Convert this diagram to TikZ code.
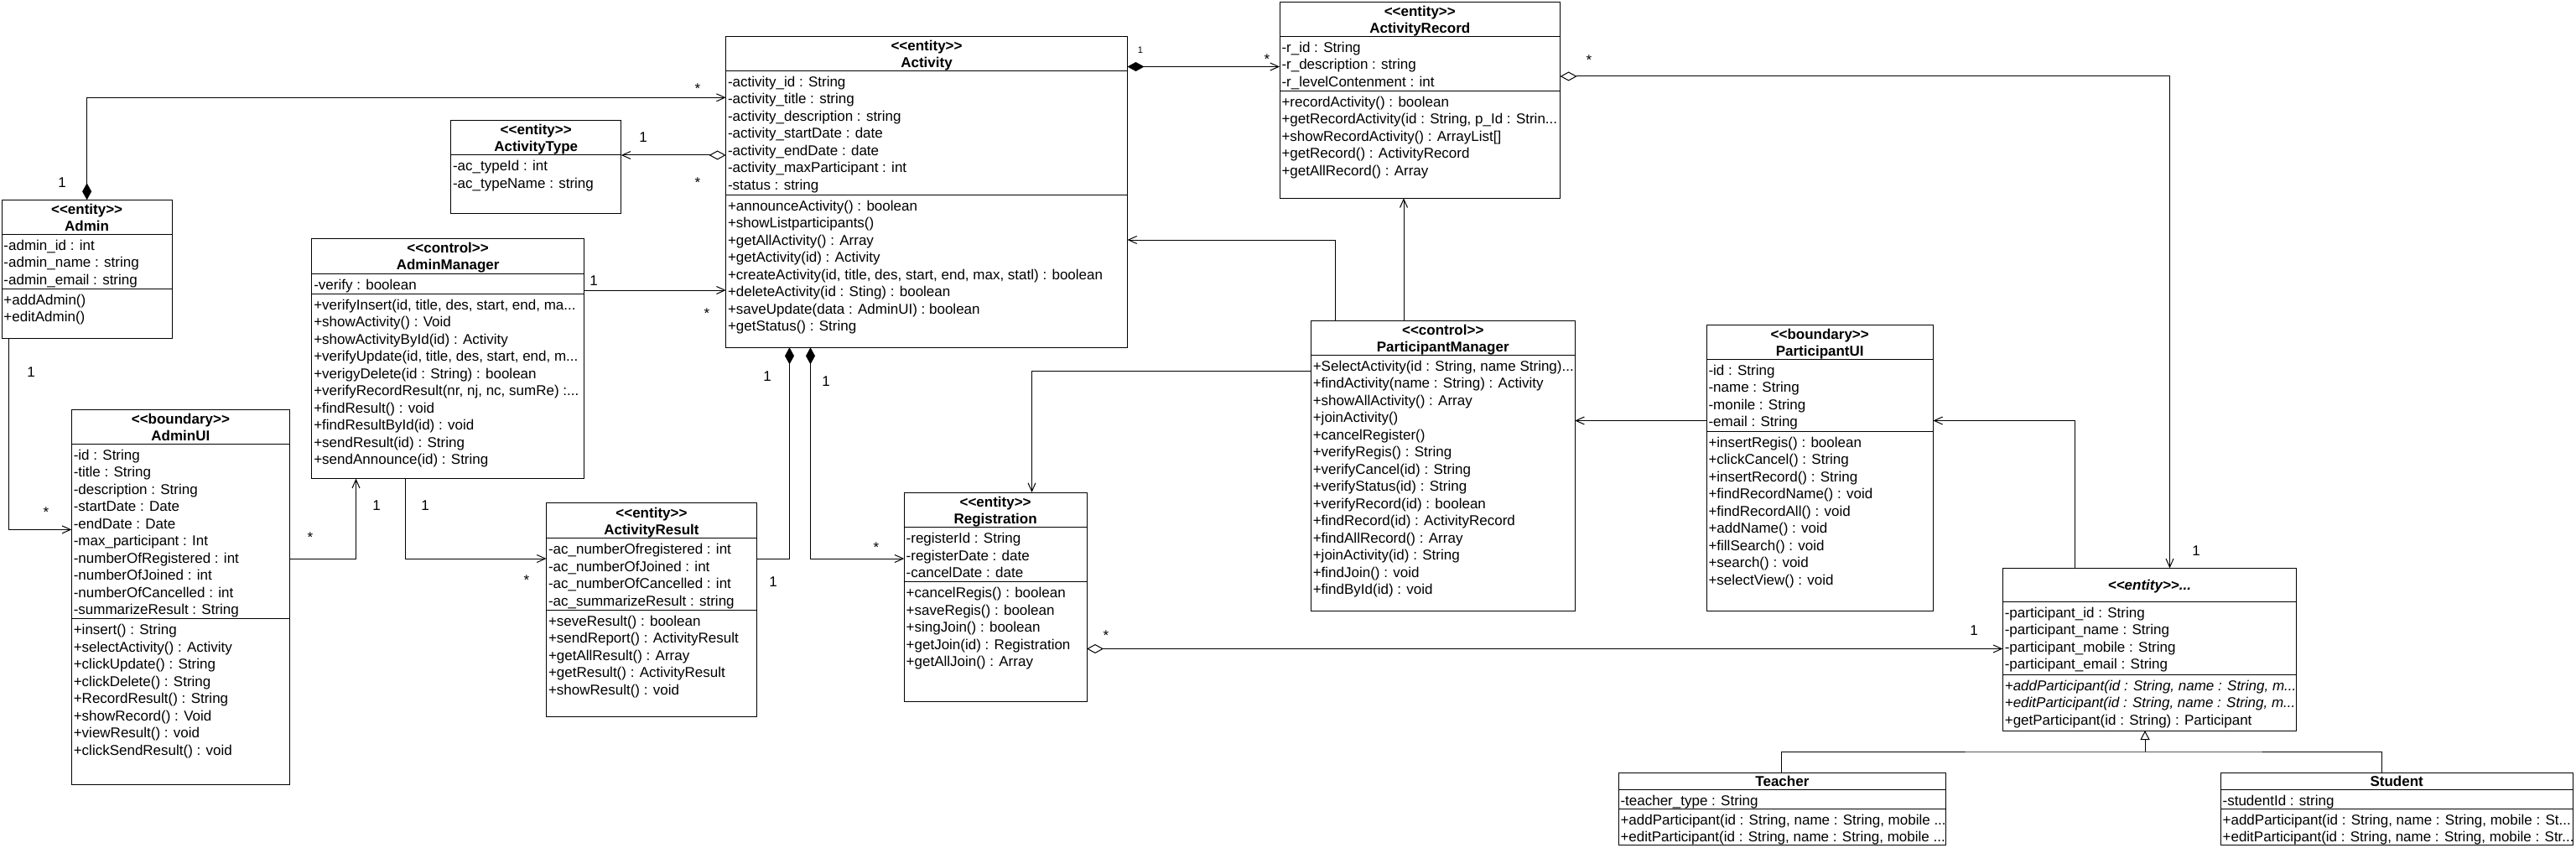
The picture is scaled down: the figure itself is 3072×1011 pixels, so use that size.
\documentclass[tikz,border=0pt]{standalone}
\usepackage{fontspec}
\setmainfont{Liberation Sans}
\usetikzlibrary{arrows.meta,calc}

\tikzset{
  box/.style={draw=black, line width=1pt, inner sep=0pt, outer sep=0pt, fill=white},
  divl/.style={draw=black, line width=1pt},
  txt/.style={inner sep=0pt, outer sep=0pt, font=\fontsize{17}{20.5}\selectfont},
  hdr/.style={inner sep=0pt, outer sep=0pt, font=\fontsize{17}{20.5}\selectfont\bfseries},
  lbl/.style={inner sep=0pt, outer sep=0pt, anchor=base, font=\fontsize{17}{20.5}\selectfont},
  conn/.style={draw=black, line width=1pt},
  nav/.style={conn, -{Straight Barb[length=10pt,width=9pt]}},
  comp/.style={conn, {Diamond[length=20pt,width=11pt]}-{Straight Barb[length=10pt,width=9pt]}},
  compplain/.style={conn, {Diamond[length=20pt,width=11pt]}-},
  aggr/.style={conn, {Diamond[open,length=20pt,width=11pt]}-{Straight Barb[length=10pt,width=9pt]}},
  gen/.style={conn, -{Triangle[open,length=11pt,width=11pt]}}
}

\newcommand\tdots{...}
% class box: name, x1, y1, x2, y2
\newcommand\cls[5]{\node[box, anchor=north west, minimum width={#4-#2}, minimum height={#5-#3}] (#1) at (#2,#3) {};}
% compartment divider: name, y
\newcommand\cdiv[2]{\draw[divl] (#1.west |- 0,#2) -- (#1.east |- 0,#2);}
% two-line header: name, stereotype, title
\newcommand\stereo[3]{%
  \node[hdr, anchor=base] (#1-st) at ($(#1.north)+(0,17.5)$) {<\kern0pt<#2>\kern0pt>};
  \node[hdr, anchor=base] (#1-nm) at ($(#1.north)+(0,37.5)$) {#3};}
% rows: prefix, x, divider y, list
\newcommand\rows[4]{\foreach \rowtext [count=\i] in {#4} {\node[txt, anchor=base west] (#1\i) at (#2, {#3+19+(\i-1)*20.5}) {\rowtext};}}

\begin{document}
\begin{tikzpicture}[x=1pt,y=-1pt]
\fill[white] (0,0) rectangle (3072,1011);
\useasboundingbox (0,0) rectangle (3072,1011);

% ---------- Admin
\cls{admin}{2}{238.3}{205.3}{403.3}
\cdiv{admin}{279.3}\cdiv{admin}{344}
\stereo{admin}{entity}{Admin}
\rows{adminA}{4.5}{279.3}{{-admin\_id : int},{-admin\_name : string},{-admin\_email : string}}
\rows{adminM}{4.5}{344}{{+addAdmin()},{+editAdmin()}}

% ---------- Activity
\cls{activity}{865.6}{43.3}{1344.5}{414.3}
\cdiv{activity}{84.3}\cdiv{activity}{232.3}
\stereo{activity}{entity}{Activity}
\rows{actA}{868}{84.3}{{-activity\_id : String},{-activity\_title : string},{-activity\_description : string},{-activity\_startDate : date},{-activity\_endDate : date},{-activity\_maxParticipant : int},{-status : string}}
\rows{actM}{868}{232.3}{{+announceActivity() : boolean},{+showListparticipants()},{+getAllActivity() : Array},{+getActivity(id) : Activity},{+createActivity(id, title, des, start, end, max, statl) : boolean},{+deleteActivity(id : Sting) : boolean},{+saveUpdate(data : AdminUI) : boolean},{+getStatus() : String}}

% ---------- ActivityType
\cls{acttype}{537.7}{143.3}{740.8}{254.3}
\cdiv{acttype}{185}
\stereo{acttype}{entity}{ActivityType}
\rows{atA}{540}{185}{{-ac\_typeId : int},{-ac\_typeName : string}}

% ---------- AdminManager
\cls{adminmgr}{371.8}{284.3}{696.5}{570.7}
\cdiv{adminmgr}{326.3}\cdiv{adminmgr}{350.4}
\stereo{adminmgr}{control}{AdminManager}
\rows{amA}{374.3}{326.3}{{-verify : boolean}}
\rows{amM}{374.3}{350.4}{{+verifyInsert(id, title, des, start, end, ma\tdots},{+showActivity() : Void},{+showActivityById(id) : Activity},{+verifyUpdate(id, title, des, start, end, m\tdots},{+verigyDelete(id : String) : boolean},{+verifyRecordResult(nr, nj, nc, sumRe) :\tdots},{+findResult() : void},{+findResultById(id) : void},{+sendResult(id) : String},{+sendAnnounce(id) : String}}

% ---------- AdminUI
\cls{adminui}{85.3}{488.2}{345.5}{935.7}
\cdiv{adminui}{529.3}\cdiv{adminui}{737.9}
\stereo{adminui}{boundary}{AdminUI}
\rows{auA}{87.8}{529.3}{{-id : String},{-title : String},{-description : String},{-startDate : Date},{-endDate : Date},{-max\_participant : Int},{-numberOfRegistered : int},{-numberOfJoined : int},{-numberOfCancelled : int},{-summarizeResult : String}}
\rows{auM}{87.8}{737.9}{{+insert() : String},{+selectActivity() : Activity},{+clickUpdate() : String},{+clickDelete() : String},{+RecordResult() : String},{+showRecord() : Void},{+viewResult() : void},{+clickSendResult() : void}}

% ---------- ActivityResult
\cls{actresult}{651.5}{599.6}{902.4}{854}
\cdiv{actresult}{641.9}\cdiv{actresult}{727}
\stereo{actresult}{entity}{ActivityResult}
\rows{arA}{654}{641.9}{{-ac\_numberOfregistered : int},{-ac\_numberOfJoined : int},{-ac\_numberOfCancelled : int},{-ac\_summarizeResult : string}}
\rows{arM}{654}{727}{{+seveResult() : boolean},{+sendReport() : ActivityResult},{+getAllResult() : Array},{+getResult() : ActivityResult},{+showResult() : void}}

% ---------- Registration
\cls{registration}{1078.2}{587}{1296}{836}
\cdiv{registration}{628.6}\cdiv{registration}{693.5}
\stereo{registration}{entity}{Registration}
\rows{rgA}{1080.7}{628.6}{{-registerId : String},{-registerDate : date},{-cancelDate : date}}
\rows{rgM}{1080.7}{693.5}{{+cancelRegis() : boolean},{+saveRegis() : boolean},{+singJoin() : boolean},{+getJoin(id) : Registration},{+getAllJoin() : Array}}

% ---------- ActivityRecord
\cls{actrecord}{1526}{2.3}{1860.6}{236.3}
\cdiv{actrecord}{43.3}\cdiv{actrecord}{108.3}
\stereo{actrecord}{entity}{ActivityRecord}
\rows{rcA}{1528.5}{43.3}{{-r\_id : String},{-r\_description : string},{-r\_levelContenment : int}}
\rows{rcM}{1528.5}{108.3}{{+recordActivity() : boolean},{+getRecordActivity(id : String, p\_Id : Strin\tdots},{+showRecordActivity() : ArrayList[]},{+getRecord() : ActivityRecord},{+getAllRecord() : Array}}

% ---------- ParticipantManager
\cls{pmanager}{1563.3}{382.3}{1878.2}{728.3}
\cdiv{pmanager}{423.3}
\stereo{pmanager}{control}{ParticipantManager}
\rows{pmM}{1565.8}{423.3}{{+SelectActivity(id : String, name String)\tdots},{+findActivity(name : String) : Activity},{+showAllActivity() : Array},{+joinActivity()},{+cancelRegister()},{+verifyRegis() : String},{+verifyCancel(id) : String},{+verifyStatus(id) : String},{+verifyRecord(id) : boolean},{+findRecord(id) : ActivityRecord},{+findAllRecord() : Array},{+joinActivity(id) : String},{+findJoin() : void},{+findById(id) : void}}

% ---------- ParticipantUI
\cls{partui}{2035}{387.3}{2305.4}{728.3}
\cdiv{partui}{428.3}\cdiv{partui}{514.3}
\stereo{partui}{boundary}{ParticipantUI}
\rows{puA}{2037.5}{428.3}{{-id : String},{-name : String},{-monile : String},{-email : String}}
\rows{puM}{2037.5}{514.3}{{+insertRegis() : boolean},{+clickCancel() : String},{+insertRecord() : String},{+findRecordName() : void},{+findRecordAll() : void},{+addName() : void},{+fillSearch() : void},{+search() : void},{+selectView() : void}}

% ---------- Participant
\cls{participant}{2388.3}{677.3}{2738.5}{871}
\cdiv{participant}{717.3}\cdiv{participant}{804}
\node[hdr, font=\fontsize{17}{20.5}\selectfont\bfseries\itshape, anchor=base] (participant-nm) at ($(participant.north)+(0,26)$) {<\kern0pt<entity>\kern0pt>\tdots};
\rows{ptA}{2390.8}{717.3}{{-participant\_id : String},{-participant\_name : String},{-participant\_mobile : String},{-participant\_email : String}}
\rows{ptM}{2390.8}{804}{{\itshape +addParticipant(id : String, name : String, m\tdots},{\itshape +editParticipant(id : String, name : String, m\tdots},{+getParticipant(id : String) : Participant}}

% ---------- Teacher
\cls{teacher}{1930}{921.7}{2320.8}{1007.3}
\cdiv{teacher}{941}\cdiv{teacher}{964.3}
\node[hdr, anchor=base] (teacher-nm) at ($(teacher.north)+(0,15.5)$) {Teacher};
\rows{teA}{1932.5}{941}{{-teacher\_type : String}}
\rows{teM}{1932.5}{964.3}{{+addParticipant(id : String, name : String, mobile \tdots},{+editParticipant(id : String, name : String, mobile \tdots}}

% ---------- Student
\cls{student}{2648.1}{921.7}{3068.2}{1007.3}
\cdiv{student}{941}\cdiv{student}{964.3}
\node[hdr, anchor=base] (student-nm) at ($(student.north)+(0,15.5)$) {Student};
\rows{stA}{2650.6}{941}{{-studentId : string}}
\rows{stM}{2650.6}{964.3}{{+addParticipant(id : String, name : String, mobile : St\tdots},{+editParticipant(id : String, name : String, mobile : Str\tdots}}

% ---------- connectors
\draw[comp] (admin.north) |- (activity.west |- 0,116.3);
\draw[nav] (admin.south -| 10.5,0) |- (adminui.west |- 0,631.4);
\draw[aggr] (activity.west |- 0,185) -- (acttype.east |- 0,185);
\draw[nav] (adminmgr.east |- 0,346) -- (activity.west |- 0,346);
\draw[nav] (adminui.east |- 0,666) -| (adminmgr.south -| 424.5,0);
\draw[nav] (adminmgr.south -| 483,0) |- (actresult.west |- 0,666);
\draw[compplain] (activity.south -| 941.5,0) |- (actresult.east |- 0,666);
\draw[comp] (activity.south -| 966.5,0) |- (registration.west |- 0,666);
\draw[comp] (activity.east |- 0,79.5) -- (actrecord.west |- 0,79.5);
\draw[aggr] (actrecord.east |- 0,91) -| (participant.north -| 2587.5,0);
\draw[nav] (pmanager.north -| 1592,0) |- (activity.east |- 0,286);
\draw[nav] (pmanager.north -| 1674,0) -- (actrecord.south -| 1674,0);
\draw[nav] (pmanager.west |- 0,442.3) -| (registration.north -| 1230.5,0);
\draw[nav] (partui.west |- 0,501.5) -- (pmanager.east |- 0,501.5);
\draw[nav] (participant.north -| 2474.5,0) |- (partui.east |- 0,501.5);
\draw[aggr] (registration.east |- 0,773.5) -- (participant.west |- 0,773.5);
\coordinate (genjoin) at (2558,896);
\draw[conn] (teacher.north -| 2124,0) |- (genjoin) -| (student.north -| 2840,0);
\draw[gen] (genjoin) -- (participant.south -| 2558,0);

% ---------- multiplicities
\node[lbl] (m1) at (74,223) {1};
\node[lbl] (m2) at (832,112) {*};
\node[lbl] (m3) at (767,170) {1};
\node[lbl] (m4) at (832,223) {*};
\node[lbl] (m5) at (708,340) {1};
\node[lbl] (m6) at (843,379) {*};
\node[lbl] (m7) at (37,449) {1};
\node[lbl] (m8) at (55,616) {*};
\node[lbl] (m9) at (370,646) {*};
\node[lbl] (m10) at (449,608) {1};
\node[lbl] (m11) at (507,608) {1};
\node[lbl] (m12) at (628,697) {*};
\node[lbl] (m13) at (915,454) {1};
\node[lbl] (m14) at (922,699) {1};
\node[lbl] (m15) at (985,460) {1};
\node[lbl] (m16) at (1045,658) {*};
\node[lbl, font=\fontsize{11}{13}\selectfont] (m17) at (1360,64) {1};
\node[lbl] (m18) at (1511,77) {*};
\node[lbl] (m19) at (1895,78) {*};
\node[lbl] (m20) at (2619,662) {1};
\node[lbl] (m21) at (1319,763) {*};
\node[lbl] (m22) at (2354,757) {1};
\end{tikzpicture}
\end{document}
